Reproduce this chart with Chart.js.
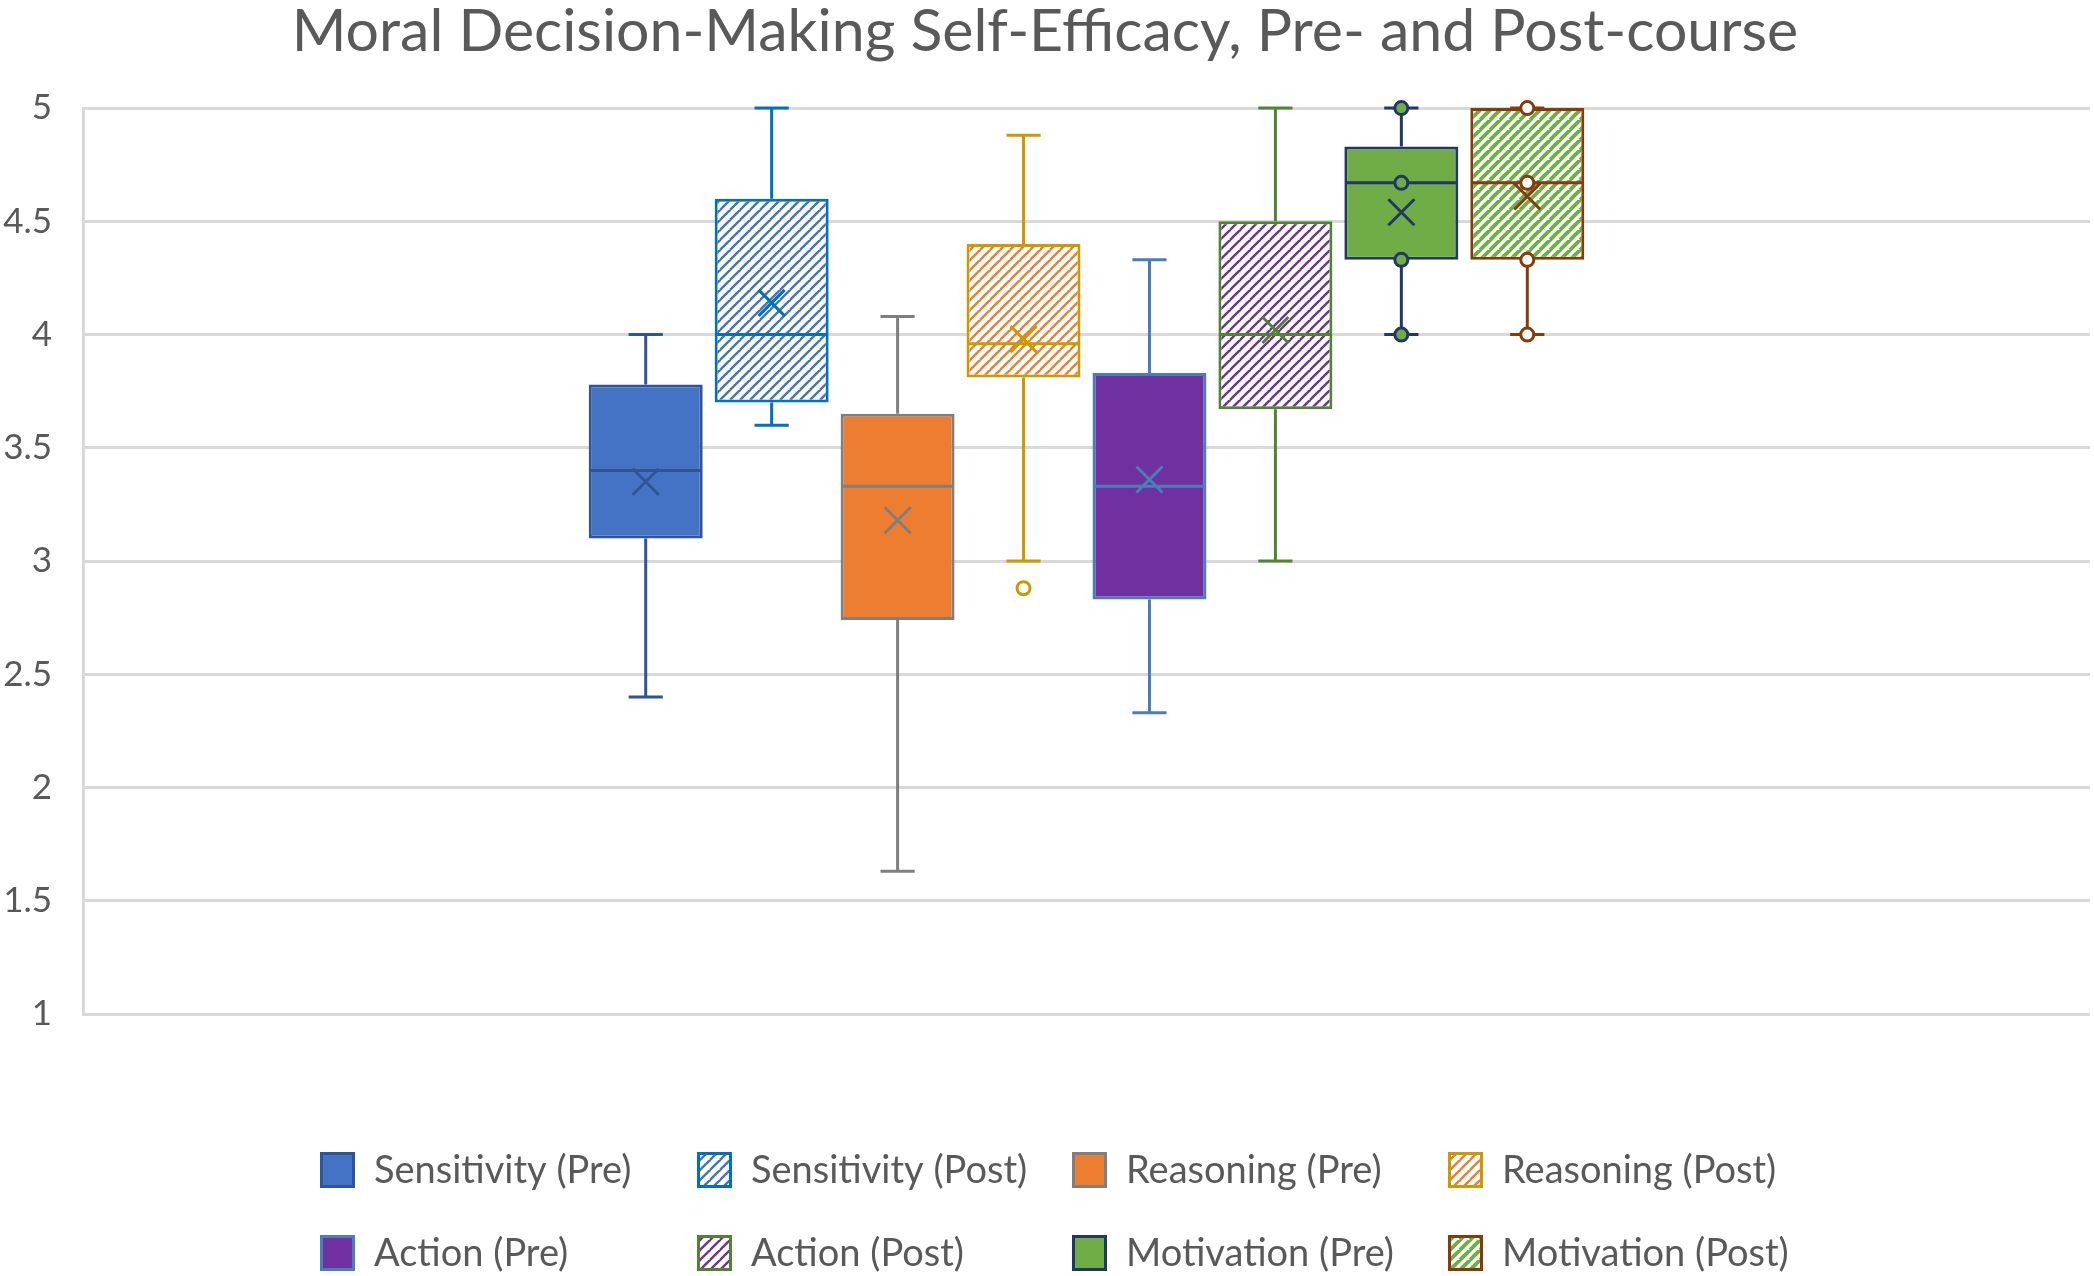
<!DOCTYPE html>
<html>
<head>
<meta charset="utf-8">
<script src="https://cdn.jsdelivr.net/npm/chart.js@4.4.1/dist/chart.umd.min.js"></script>
<style>
  html, body { margin: 0; padding: 0; background: #fff; }
  #wrap { width: 2094px; height: 1276px; position: relative; }
</style>
</head>
<body>
<div id="wrap"><canvas id="boxChart"></canvas></div>
<script>
'use strict';

// --- data ---
const seriesNames = [
    "Sensitivity (Pre)", "Sensitivity (Post)", "Reasoning (Pre)", "Reasoning (Post)",
    "Action (Pre)", "Action (Post)", "Motivation (Pre)", "Motivation (Post)"
];
const q1Values     = [3.10, 3.70, 2.74, 3.81, 2.83, 3.67, 4.33, 4.33];
const q3Values     = [3.78, 4.60, 3.65, 4.40, 3.83, 4.50, 4.83, 5.00];
const medianValues = [3.40, 4.00, 3.33, 3.96, 3.33, 4.00, 4.67, 4.67];
const meanValues   = [3.35, 4.14, 3.18, 3.98, 3.36, 4.02, 4.54, 4.61];
const minValues    = [2.40, 3.60, 1.63, 3.00, 2.33, 3.00, 4.00, 4.00];
const maxValues    = [4.00, 5.00, 4.08, 4.88, 4.33, 5.00, 5.00, 5.00];
const outlierValues = [[], [], [], [2.88], [], [], [], []];
const innerPointValues = [[], [], [], [], [], [], [5, 4.67, 4.33, 4], [5, 4.67, 4.33, 4]];
const yTicks = [1, 1.5, 2, 2.5, 3, 3.5, 4, 4.5, 5];

// --- styles ---
const fillColors   = ["#4472C4", "#4472C4", "#ED7D31", "#ED7D31", "#7030A0", "#7030A0", "#70AD47", "#70AD47"];
const hatched      = [false, true, false, true, false, true, false, true];
const borderColors = ["#2F5597", "#0070C0", "#7F7F7F", "#CC9900", "#4A7EBB", "#548235", "#1F3864", "#843C0C"];
const textColor = "#595959";
const fontFamily = "Lato, 'Open Sans', sans-serif";

function hatchPattern(color, thick) {
    const n = 10;
    const c = document.createElement("canvas");
    c.width = n; c.height = n;
    const g = c.getContext("2d");
    g.fillStyle = "#fff";
    g.fillRect(0, 0, n, n);
    g.strokeStyle = color;
    g.lineWidth = thick ? 3.8 : 2.4;
    [0, n, 2 * n].forEach(k => {
        g.beginPath();
        g.moveTo(k - n, n);
        g.lineTo(k + n, -n);
        g.stroke();
    });
    return document.getElementById("boxChart").getContext("2d").createPattern(c, "repeat");
}

const fills = fillColors.map((col, i) => hatched[i] ? hatchPattern(col, i === 7) : col);

const boxExtras = {
    id: "boxExtras",
    afterDatasetsDraw(chart) {
        const ctx = chart.ctx;
        const y = chart.scales.y;
        ctx.save();
        chart.data.datasets.forEach((ds, i) => {
            const bar = chart.getDatasetMeta(i).data[0];
            const cx = bar.x;
            const half = bar.width / 2;
            const cap = bar.width * 0.15;
            ctx.strokeStyle = borderColors[i];
            ctx.lineWidth = 3;

            // whiskers
            ctx.beginPath();
            ctx.moveTo(cx, y.getPixelForValue(q3Values[i]));
            ctx.lineTo(cx, y.getPixelForValue(maxValues[i]));
            ctx.moveTo(cx, y.getPixelForValue(q1Values[i]));
            ctx.lineTo(cx, y.getPixelForValue(minValues[i]));
            ctx.moveTo(cx - cap, y.getPixelForValue(maxValues[i]));
            ctx.lineTo(cx + cap, y.getPixelForValue(maxValues[i]));
            ctx.moveTo(cx - cap, y.getPixelForValue(minValues[i]));
            ctx.lineTo(cx + cap, y.getPixelForValue(minValues[i]));
            // median
            const ym = y.getPixelForValue(medianValues[i]);
            ctx.moveTo(cx - half + 2, ym);
            ctx.lineTo(cx + half - 2, ym);
            // mean cross
            const ya = y.getPixelForValue(meanValues[i]);
            const s = 13;
            ctx.moveTo(cx - s, ya - s);
            ctx.lineTo(cx + s, ya + s);
            ctx.moveTo(cx + s, ya - s);
            ctx.lineTo(cx - s, ya + s);
            ctx.stroke();

            // inner points and outliers
            const pts = innerPointValues[i].concat(outlierValues[i]);
            pts.forEach(v => {
                ctx.beginPath();
                ctx.arc(cx, y.getPixelForValue(v), 6.5, 0, Math.PI * 2);
                ctx.fillStyle = hatched[i] ? "#fff" : fillColors[i];
                ctx.fill();
                ctx.stroke();
            });
        });
        ctx.restore();
    },
    afterDraw(chart) {
        // legend laid out in a 4-column grid, as in the reference
        const ctx = chart.ctx;
        const cols = [320, 697, 1072, 1448];
        const rows = [1170, 1253];
        ctx.save();
        ctx.font = "38px " + fontFamily;
        ctx.textBaseline = "middle";
        ctx.textAlign = "left";
        chart.data.datasets.forEach((ds, i) => {
            const x = cols[i % 4];
            const yc = rows[Math.floor(i / 4)];
            ctx.fillStyle = ds.backgroundColor;
            ctx.fillRect(x, yc - 18, 35, 36);
            ctx.strokeStyle = ds.borderColor;
            ctx.lineWidth = 3;
            ctx.strokeRect(x + 1.5, yc - 16.5, 32, 33);
            ctx.fillStyle = textColor;
            ctx.fillText(ds.label, x + 54, yc + 1);
        });
        ctx.restore();
    }
};

const ctx = document.getElementById("boxChart").getContext("2d");

const boxChart = new Chart(ctx, {
    type: "bar",
    data: {
        labels: [""],
        datasets: seriesNames.map((name, i) => ({
            label: name,
            data: [[q1Values[i], q3Values[i]]],
            backgroundColor: fills[i],
            borderColor: borderColors[i],
            borderWidth: 3,
            borderSkipped: false,
            categoryPercentage: 0.502,
            barPercentage: 0.905,
        })),
    },
    options: {
        responsive: true,
        maintainAspectRatio: false,
        animation: false,
        layout: {
            padding: { left: 0, right: 4, top: 0, bottom: 262 },
        },
        scales: {
            x: {
                display: false,
            },
            y: {
                min: yTicks[0],
                max: yTicks[yTicks.length - 1],
                afterBuildTicks: (scale) => {
                    scale.ticks = yTicks.map(v => ({ value: v }));
                },
                afterFit: (scale) => {
                    scale.width = 83;
                },
                ticks: {
                    color: textColor,
                    font: { family: fontFamily, size: 35 },
                    padding: 31,
                    callback: (v) => String(v),
                },
                grid: { color: "#D9D9D9", lineWidth: 3, drawTicks: false },
                border: { display: true, color: "#D9D9D9", width: 3 },
            },
        },
        plugins: {
            legend: { display: false },
            tooltip: { enabled: false },
            title: {
                display: true,
                text: "Moral Decision-Making Self-Efficacy, Pre- and Post-course",
                color: textColor,
                font: { family: fontFamily, size: 59, weight: "normal", lineHeight: 0.68 },
                padding: { top: 12, bottom: 56 },
            },
        },
    },
    plugins: [boxExtras],
});
</script>
</body>
</html>
